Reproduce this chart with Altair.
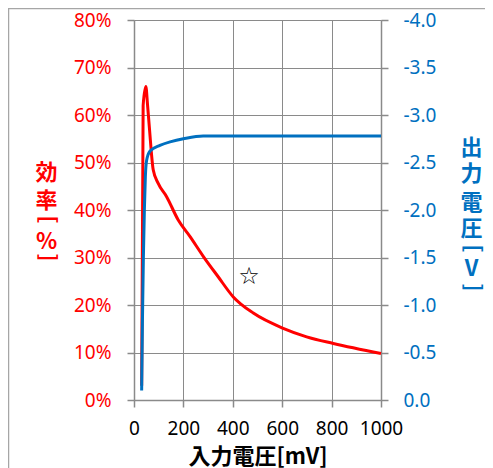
import altair as alt
import pandas as pd

# efficiency curve (input mV -> %)
eff_mv = [31, 37, 48, 55, 62, 78, 98, 132, 179, 227, 281, 340, 402, 483, 604, 699, 807, 1000]
eff_pct = [3, 62, 66, 62, 57.5, 48.4, 45.6, 42.8, 37.9, 34.4, 30.2, 26.0, 21.7, 18.3, 15.1, 13.3, 11.9, 9.8]

# output voltage curve (input mV -> V)
out_mv = [31, 34, 38, 42, 46, 51, 65, 105, 150, 200, 280, 400, 1000]
out_v = [-0.1, -0.8, -1.5, -2.0, -2.35, -2.52, -2.62, -2.68, -2.72, -2.75, -2.78, -2.78, -2.78]

# star marker
star_mv = [466]
star_pct = [26.0]
star_text = ["☆"]

x_ticks = list(range(0, 1001, 100))
pct_ticks = list(range(0, 81, 10))
v_ticks = [0.0, -0.5, -1.0, -1.5, -2.0, -2.5, -3.0, -3.5, -4.0]

# vertical axis titles (characters, written top to bottom)
left_title_chars = ["効", "率", "[", "%", "]"]
right_title_chars = ["出", "力", "電", "圧", "[", "V", "]"]

RED = "#FF0000"
BLUE = "#0070C0"
DARK = "#8a8a8a"
LIGHT = "#c8c8c8"
LATIN = "Noto Sans"
CJK = "Noto Sans CJK JP"

eff_df = pd.DataFrame({"mv": eff_mv, "pct": eff_pct})
out_df = pd.DataFrame({"mv": out_mv, "v": out_v})
star_df = pd.DataFrame({"mv": star_mv, "pct": star_pct, "t": star_text})

x_scale = alt.Scale(domain=[0, 1000], nice=False)
x_axis = alt.Axis(
    values=x_ticks, format="d", grid=True,
    gridColor={"condition": {"test": "datum.value % 200 === 0", "value": DARK}, "value": LIGHT},
    gridWidth=1,
    tickOpacity={"condition": {"test": "datum.value % 200 === 0", "value": 1}, "value": 0},
    labelExpr="datum.value % 200 === 0 ? datum.label : ''",
    labelFlush=False, labelOverlap=False,
    tickSize=7, tickColor=DARK, tickWidth=1.5, domainColor=DARK, domainWidth=1.5,
    labelFont=LATIN, labelFontSize=19, labelColor="black", labelPadding=12,
    title="入力電圧[mV]", titleFont=CJK, titleFontSize=22, titleFontWeight="bold",
    titleColor="black", titleY=56, titleBaseline="middle",
)

y_left_axis = alt.Axis(
    values=pct_ticks, labelExpr="datum.value + '%'", grid=True, gridColor=DARK, gridWidth=1,
    tickSize=7, tickColor=DARK, tickWidth=1.5, domainColor=DARK, domainWidth=1.5,
    labelColor=RED, labelFont=LATIN, labelFontSize=19, labelPadding=16,
    title=None,
)

y_right_axis = alt.Axis(
    orient="right", values=v_ticks,
    labelExpr="(datum.value < 0 ? '-' : '') + format(abs(datum.value), '.1f')",
    grid=False,
    tickSize=7, tickColor=DARK, tickWidth=1.5, domainColor=DARK, domainWidth=1.5,
    labelColor=BLUE, labelFont=LATIN, labelFontSize=19, labelPadding=15,
    title=None,
)

red_line = alt.Chart(eff_df).mark_line(color=RED, strokeWidth=3, interpolate="monotone").encode(
    x=alt.X("mv:Q", scale=x_scale, axis=x_axis),
    y=alt.Y("pct:Q", scale=alt.Scale(domain=[0, 80], nice=False), axis=y_left_axis),
)

star = alt.Chart(star_df).mark_text(font="DejaVu Sans", fontSize=24, color="black", baseline="middle").encode(
    x=alt.X("mv:Q", scale=x_scale),
    y=alt.Y("pct:Q", scale=alt.Scale(domain=[0, 80], nice=False)),
    text="t:N",
)

frame_left = alt.Chart(alt.Data(values=[{}])).mark_rule(color="#a6a6a6", strokeWidth=1.5).encode(
    x=alt.value(-125.5), y=alt.value(-12), y2=alt.value(460),
)
frame_top = alt.Chart(alt.Data(values=[{}])).mark_rule(color="#a6a6a6", strokeWidth=1.5).encode(
    x=alt.value(-125.5), x2=alt.value(360), y=alt.value(-11.5),
)


def title_char(ch, x, y, color):
    bracket = ch in "[]"
    props = dict(text=ch, font=CJK, fontSize=21 if bracket else 22, fontWeight="bold",
                 color=color, align="center", baseline="middle")
    if bracket:
        props["angle"] = 90
    return alt.Chart(alt.Data(values=[{}])).mark_text(**props).encode(
        x=alt.value(x), y=alt.value(y)
    )


# layout positions (plot-area pixels) for the vertical titles
left_title_y = [153, 181, 199.5, 222, 237.5]
right_title_y = [127.5, 154, 182.5, 209, 228.5, 249, 267.5]

title_layers = [title_char(c, -87.5, y, RED) for c, y in zip(left_title_chars, left_title_y)]
title_layers += [title_char(c, 337.5, y, BLUE) for c, y in zip(right_title_chars, right_title_y)]

left = alt.layer(red_line, star, frame_left, frame_top, *title_layers)

blue_line = alt.Chart(out_df).mark_line(color=BLUE, strokeWidth=3, interpolate="monotone").encode(
    x=alt.X("mv:Q", scale=x_scale),
    y=alt.Y("v:Q", scale=alt.Scale(domain=[-4, 0], reverse=True, nice=False), axis=y_right_axis),
)

chart = alt.layer(left, blue_line).resolve_scale(y="independent").properties(
    width=247, height=380,
    autosize=alt.AutoSizeParams(type="none"),
    padding={"left": 126, "top": 12, "right": 104, "bottom": 68},
    background="white",
).configure_view(strokeWidth=0)

chart.save("out.html", embed_options={"renderer": "svg", "actions": False})
